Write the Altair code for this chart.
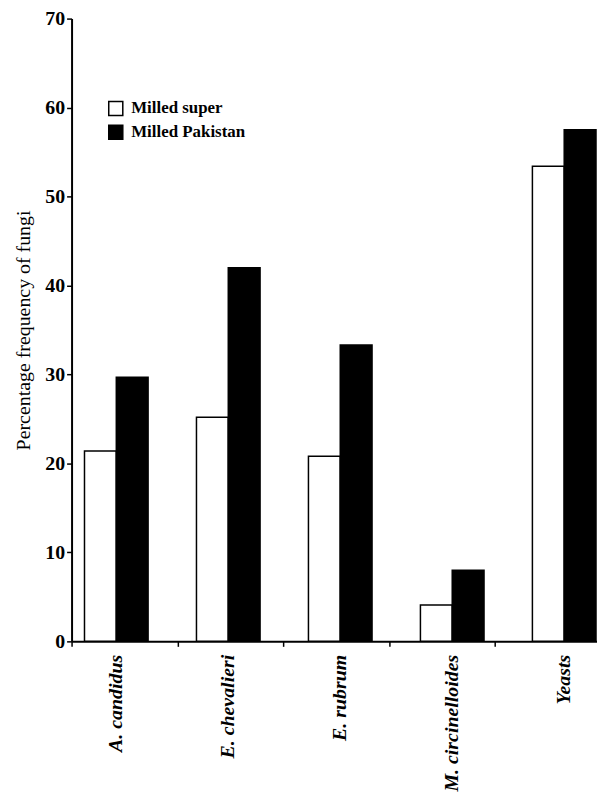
import altair as alt
import pandas as pd

categories = ["A. candidus", "E. chevalieri", "E. rubrum", "M. circinelloides", "Yeasts"]
series = ["Milled super", "Milled Pakistan"]
milled_super = [21.4, 25.2, 20.8, 4.1, 53.4]
milled_pakistan = [29.7, 42.0, 33.3, 8.0, 57.5]

rows = []
for c, a, b in zip(categories, milled_super, milled_pakistan):
    rows.append({"fungus": c, "sample": series[0], "value": a})
    rows.append({"fungus": c, "sample": series[1], "value": b})
df = pd.DataFrame(rows)
cat_df = pd.DataFrame({"fungus": categories})

FONT = "Liberation Serif, Times New Roman, Times, serif"

bars = alt.Chart(df).mark_bar(stroke="black", strokeWidth=1.5).encode(
    x=alt.X("fungus:N", sort=categories, title=None,
            scale=alt.Scale(paddingInner=0.432, paddingOuter=0.0577, align=1),
            axis=alt.Axis(orient="bottom", labelAngle=-90, labelFont=FONT, labelFontSize=20,
                          labelFontStyle="italic", labelFontWeight="bold",
                          labelColor="black", labelPadding=13, labelAlign="right",
                          labelBaseline="middle", ticks=False, domain=False, grid=False)),
    xOffset=alt.XOffset("sample:N", sort=series, scale=alt.Scale(paddingInner=0, paddingOuter=0)),
    y=alt.Y("value:Q", title="Percentage frequency of fungi",
            scale=alt.Scale(domain=[0, 70], nice=False),
            axis=alt.Axis(values=[0, 10, 20, 30, 40, 50, 60, 70], labelFont=FONT,
                          labelFontSize=20, labelFontWeight="bold", labelColor="black",
                          labelPadding=2, tickSize=5, tickWidth=1.5, tickColor="black",
                          domainColor="black", domainWidth=2, grid=False,
                          titleFont=FONT, titleFontSize=20, titleFontWeight="normal",
                          titleColor="black", titlePadding=11)),
    fill=alt.Fill("sample:N", sort=series,
                  scale=alt.Scale(domain=series, range=["white", "black"]),
                  legend=alt.Legend(title=None, orient="none", legendX=36, legendY=82,
                                    symbolType="square", symbolSize=200,
                                    symbolStrokeColor="black", symbolStrokeWidth=1.5,
                                    labelFont=FONT, labelFontSize=17, labelFontWeight="bold",
                                    labelColor="black", rowPadding=3, labelOffset=7)),
)

tick_axis = alt.Chart(cat_df).mark_point(opacity=0).encode(
    x=alt.X("fungus:N", sort=categories, title=None,
            scale=alt.Scale(paddingInner=0, paddingOuter=0, range=[0, 533]),
            axis=alt.Axis(orient="bottom", labels=False, tickBand="extent", tickSize=5,
                          tickWidth=1.5, tickColor="black", domainColor="black",
                          domainWidth=2, grid=False)),
)

chart = alt.layer(bars, tick_axis).resolve_scale(x="independent").properties(
    width=528, height=627,
    autosize=alt.AutoSizeParams(type="none"),
    padding={"left": 64, "top": 8, "right": 1, "bottom": 150},
).configure_view(stroke=None)

chart.save("out.html", embed_options={"renderer": "svg", "actions": False})
